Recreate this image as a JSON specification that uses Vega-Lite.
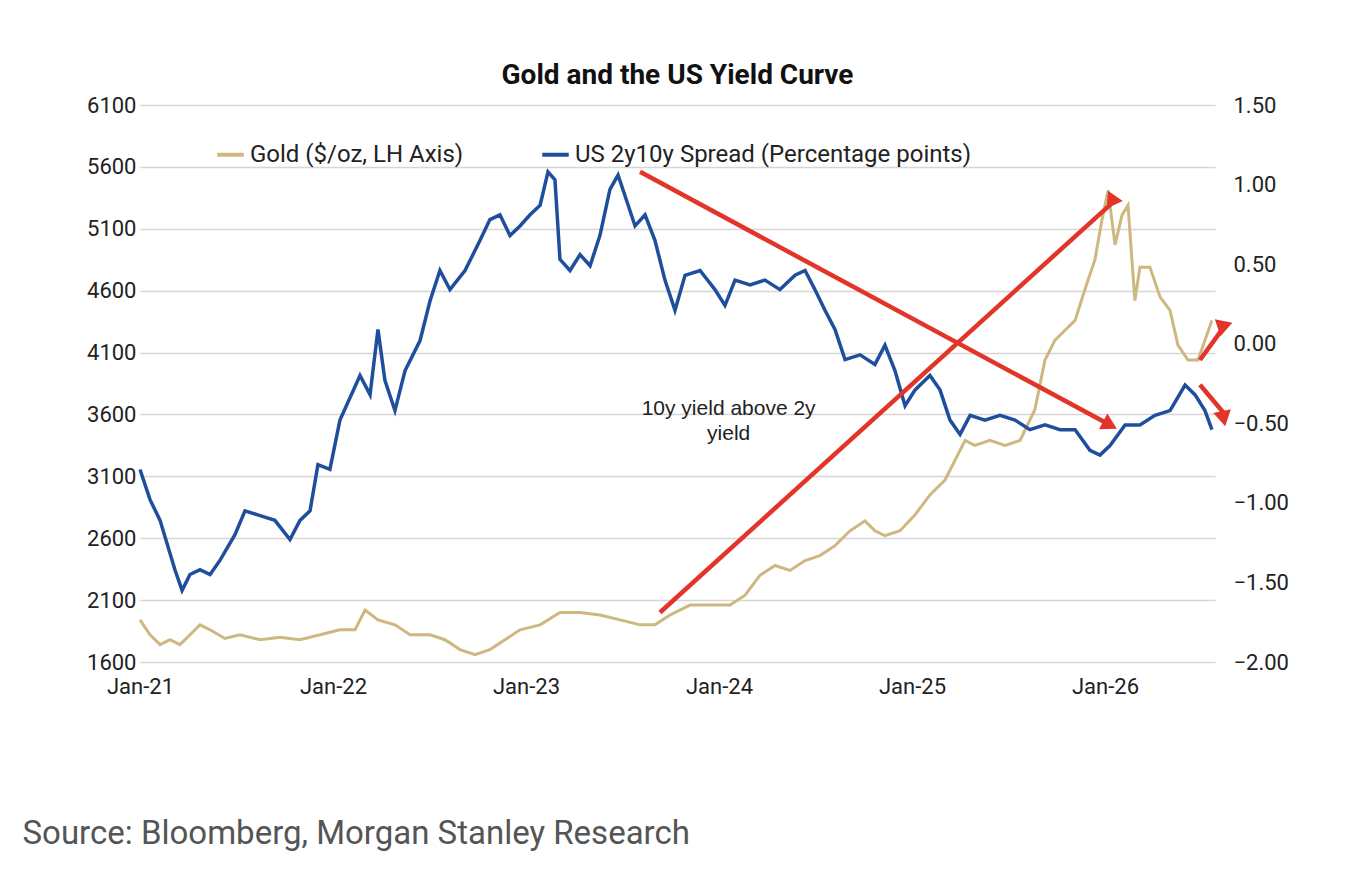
{
  "$schema": "https://vega.github.io/schema/vega-lite/v6.json",
  "autosize": "none",
  "width": 1075,
  "height": 557,
  "padding": {"left": 140, "top": 105, "right": 145, "bottom": 218},
  "background": "white",
  "title": {"text": "Gold and the US Yield Curve", "font": "Roboto", "fontSize": 28, "fontWeight": "bold", "color": "#111", "anchor": "middle", "offset": 4},
  "datasets": {
    "gold": [
      {"t":0,"v":1940},{"t":0.052,"v":1820},{"t":0.104,"v":1740},{"t":0.155,"v":1780},{"t":0.207,"v":1740},{"t":0.259,"v":1820},{"t":0.311,"v":1900},{"t":0.363,"v":1860},{"t":0.44,"v":1790},{"t":0.518,"v":1820},{"t":0.622,"v":1780},{"t":0.725,"v":1800},{"t":0.829,"v":1780},{"t":0.933,"v":1820},{"t":1.036,"v":1860},{"t":1.114,"v":1860},{"t":1.166,"v":2020},{"t":1.233,"v":1940},{"t":1.321,"v":1900},{"t":1.399,"v":1820},{"t":1.503,"v":1820},{"t":1.58,"v":1780},{"t":1.658,"v":1700},{"t":1.736,"v":1660},{"t":1.813,"v":1700},{"t":1.891,"v":1780},{"t":1.969,"v":1860},{"t":2.073,"v":1900},{"t":2.176,"v":2000},{"t":2.28,"v":2000},{"t":2.383,"v":1980},{"t":2.487,"v":1940},{"t":2.591,"v":1900},{"t":2.668,"v":1900},{"t":2.746,"v":1980},{"t":2.85,"v":2060},{"t":2.953,"v":2060},{"t":3.057,"v":2060},{"t":3.135,"v":2140},{"t":3.212,"v":2300},{"t":3.29,"v":2380},{"t":3.368,"v":2340},{"t":3.446,"v":2420},{"t":3.523,"v":2460},{"t":3.601,"v":2540},{"t":3.679,"v":2660},{"t":3.756,"v":2740},{"t":3.808,"v":2660},{"t":3.86,"v":2620},{"t":3.938,"v":2660},{"t":4.016,"v":2790},{"t":4.093,"v":2950},{"t":4.171,"v":3070},{"t":4.223,"v":3230},{"t":4.275,"v":3390},{"t":4.326,"v":3350},{"t":4.404,"v":3390},{"t":4.482,"v":3350},{"t":4.56,"v":3390},{"t":4.637,"v":3640},{"t":4.689,"v":4040},{"t":4.741,"v":4200},{"t":4.793,"v":4280},{"t":4.845,"v":4360},{"t":4.896,"v":4610},{"t":4.948,"v":4850},{"t":4.984,"v":5170},{"t":5.016,"v":5410},{"t":5.052,"v":4970},{"t":5.088,"v":5210},{"t":5.119,"v":5290},{"t":5.155,"v":4520},{"t":5.181,"v":4790},{"t":5.233,"v":4790},{"t":5.285,"v":4550},{"t":5.337,"v":4440},{"t":5.378,"v":4160},{"t":5.43,"v":4040},{"t":5.482,"v":4040},{"t":5.518,"v":4200},{"t":5.554,"v":4360}
    ],
    "spread": [
      {"t":0,"v":-0.79},{"t":0.052,"v":-0.98},{"t":0.104,"v":-1.11},{"t":0.181,"v":-1.42},{"t":0.218,"v":-1.55},{"t":0.259,"v":-1.45},{"t":0.311,"v":-1.42},{"t":0.363,"v":-1.45},{"t":0.415,"v":-1.36},{"t":0.492,"v":-1.2},{"t":0.544,"v":-1.05},{"t":0.622,"v":-1.08},{"t":0.699,"v":-1.11},{"t":0.777,"v":-1.23},{"t":0.829,"v":-1.11},{"t":0.881,"v":-1.05},{"t":0.922,"v":-0.76},{"t":0.984,"v":-0.79},{"t":1.036,"v":-0.48},{"t":1.14,"v":-0.2},{"t":1.192,"v":-0.32},{"t":1.233,"v":0.09},{"t":1.269,"v":-0.23},{"t":1.321,"v":-0.42},{"t":1.373,"v":-0.17},{"t":1.451,"v":0.02},{"t":1.503,"v":0.27},{"t":1.554,"v":0.46},{"t":1.606,"v":0.34},{"t":1.684,"v":0.46},{"t":1.762,"v":0.65},{"t":1.813,"v":0.78},{"t":1.865,"v":0.81},{"t":1.917,"v":0.68},{"t":1.969,"v":0.74},{"t":2.021,"v":0.81},{"t":2.073,"v":0.87},{"t":2.114,"v":1.08},{"t":2.15,"v":1.03},{"t":2.176,"v":0.53},{"t":2.228,"v":0.46},{"t":2.28,"v":0.56},{"t":2.332,"v":0.49},{"t":2.383,"v":0.68},{"t":2.435,"v":0.97},{"t":2.477,"v":1.06},{"t":2.513,"v":0.93},{"t":2.565,"v":0.74},{"t":2.617,"v":0.81},{"t":2.668,"v":0.65},{"t":2.72,"v":0.4},{"t":2.772,"v":0.21},{"t":2.824,"v":0.43},{"t":2.902,"v":0.46},{"t":2.979,"v":0.34},{"t":3.031,"v":0.24},{"t":3.083,"v":0.4},{"t":3.161,"v":0.37},{"t":3.238,"v":0.4},{"t":3.316,"v":0.34},{"t":3.394,"v":0.43},{"t":3.446,"v":0.46},{"t":3.497,"v":0.34},{"t":3.549,"v":0.21},{"t":3.601,"v":0.09},{"t":3.653,"v":-0.1},{"t":3.731,"v":-0.07},{"t":3.808,"v":-0.13},{"t":3.86,"v":-0.01},{"t":3.912,"v":-0.17},{"t":3.964,"v":-0.39},{"t":4.016,"v":-0.29},{"t":4.093,"v":-0.2},{"t":4.145,"v":-0.29},{"t":4.197,"v":-0.48},{"t":4.249,"v":-0.57},{"t":4.301,"v":-0.45},{"t":4.378,"v":-0.48},{"t":4.456,"v":-0.45},{"t":4.534,"v":-0.48},{"t":4.611,"v":-0.54},{"t":4.689,"v":-0.51},{"t":4.767,"v":-0.54},{"t":4.845,"v":-0.54},{"t":4.922,"v":-0.67},{"t":4.974,"v":-0.7},{"t":5.026,"v":-0.64},{"t":5.104,"v":-0.51},{"t":5.181,"v":-0.51},{"t":5.259,"v":-0.45},{"t":5.337,"v":-0.42},{"t":5.415,"v":-0.26},{"t":5.466,"v":-0.32},{"t":5.518,"v":-0.42},{"t":5.554,"v":-0.54}
    ],
    "arrows": [
      {"id":1,"t":2.591,"v":5560,"t2":5.026,"v2":3514},
      {"id":2,"t":2.694,"v":2000,"t2":5.052,"v2":5330},
      {"id":3,"t":5.492,"v":4040,"t2":5.622,"v2":4320},
      {"id":4,"t":5.492,"v":3840,"t2":5.622,"v2":3600}
    ],
    "zero": [{"v":4100}],
    "note": [{"t":3.05,"v":3640,"label":"10y yield above 2y"},{"t":3.05,"v":3440,"label":"yield"}]
  },
  "resolve": {"scale": {"y": "independent"}},
  "encoding": {
    "x": {"field": "t", "type": "quantitative",
      "scale": {"domain": [0, 5.57], "nice": false, "zero": false},
      "axis": {"values": [0,1,2,3,4,5], "labelExpr": "'Jan-' + (21 + datum.value)", "labelFlush": false, "grid": false, "domain": false, "ticks": false, "labelFontSize": 22, "labelColor": "#222", "labelFont": "Roboto", "labelPadding": 14,
        "title": "Source: Bloomberg, Morgan Stanley Research", "titleFont": "Roboto", "titleFontSize": 33, "titleFontWeight": "normal", "titleColor": "#555", "titleAnchor": "start", "titleAlign": "left", "titleX": -118, "titleY": 155}}
  },
  "layer": [
    {
      "data": {"name": "gold"},
      "mark": {"type": "line", "strokeWidth": 3},
      "encoding": {
        "y": {"field": "v", "type": "quantitative", "scale": {"domain": [1600, 6100], "nice": false, "zero": false},
          "axis": {"values": [1600,2100,2600,3100,3600,4100,4600,5100,5600,6100], "format": "d", "orient": "left", "title": null, "domain": false, "ticks": false, "grid": true, "gridColor": "#d6d6d6", "gridWidth": 1.5, "labelFontSize": 22, "labelColor": "#222", "labelFont": "Roboto", "labelPadding": 4, "labelBaseline": "middle"}},
        "color": {"datum": "Gold ($/oz, LH Axis)", "type": "nominal",
          "scale": {"domain": ["Gold ($/oz, LH Axis)", "US 2y10y Spread (Percentage points)"], "range": ["#CDB87F", "#1F4F9C"]},
          "legend": {"orient": "none", "legendX": 75, "legendY": 34, "direction": "horizontal", "title": null, "symbolType": "stroke", "symbolStrokeWidth": 4, "symbolSize": 700, "labelFontSize": 24, "labelFont": "Roboto", "labelColor": "#222", "labelLimit": 0, "columnPadding": 70, "labelOffset": 4}}
      }
    },
    {
      "data": {"name": "spread"},
      "mark": {"type": "line", "strokeWidth": 3.5},
      "encoding": {
        "y": {"field": "v", "type": "quantitative", "scale": {"domain": [-2, 1.5], "nice": false, "zero": false},
          "axis": {"values": [-2,-1.5,-1,-0.5,0,0.5,1,1.5], "format": ".2f", "orient": "right", "title": null, "domain": false, "ticks": false, "grid": false, "labelFontSize": 22, "labelColor": "#222", "labelFont": "Roboto", "labelPadding": 18}},
        "color": {"datum": "US 2y10y Spread (Percentage points)", "type": "nominal"}
      }
    },
    {
      "data": {"name": "zero"},
      "mark": {"type": "rule", "strokeDash": [8, 6], "strokeWidth": 2, "color": "#222"},
      "encoding": {"x": {"datum": 0, "type": "quantitative"}, "x2": {"datum": 5.57}, "y": {"field": "v", "type": "quantitative", "scale": {"domain": [1600, 6100], "nice": false, "zero": false}, "axis": null}}
    },
    {
      "data": {"values": [{"v": 1600}]},
      "mark": {"type": "rule", "strokeWidth": 3, "color": "#888"},
      "encoding": {"x": {"datum": 0, "type": "quantitative"}, "x2": {"datum": 5.57}, "y": {"field": "v", "type": "quantitative", "scale": {"domain": [1600, 6100], "nice": false, "zero": false}, "axis": null}}
    },
    {
      "data": {"name": "arrows"},
      "layer": [
        {
          "mark": {"type": "rule", "strokeWidth": 4.5, "color": "#E3342A"},
          "encoding": {"x": {"field": "t", "type": "quantitative"}, "x2": {"field": "t2"}, "y": {"field": "v", "type": "quantitative", "scale": {"domain": [1600, 6100], "nice": false, "zero": false}, "axis": null}, "y2": {"field": "v2"}}
        },
        {
          "mark": {"type": "point", "shape": "triangle-up", "filled": true, "size": 320, "color": "#E3342A", "opacity": 1},
          "encoding": {"x": {"field": "t2", "type": "quantitative"}, "y": {"field": "v2", "type": "quantitative", "scale": {"domain": [1600, 6100], "nice": false, "zero": false}, "axis": null},
            "angle": {"field": "id", "type": "ordinal", "scale": {"domain": [1,2,3,4], "range": [118,48,36,140]}, "legend": null}}
        }
      ]
    },
    {
      "data": {"name": "note"},
      "mark": {"type": "text", "fontSize": 21, "font": "Arial", "color": "#222"},
      "encoding": {"x": {"field": "t", "type": "quantitative"}, "y": {"field": "v", "type": "quantitative", "scale": {"domain": [1600, 6100], "nice": false, "zero": false}, "axis": null}, "text": {"field": "label"}}
    }
  ],
  "config": {"view": {"stroke": null}}
}
